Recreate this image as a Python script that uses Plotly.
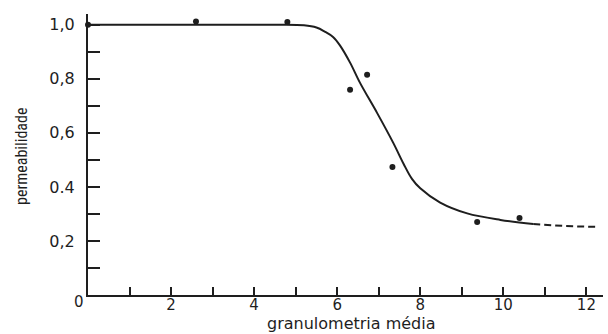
import plotly.graph_objects as go

# measured points
pts_x = [0.0, 2.6, 4.8, 6.31, 6.72, 7.33, 9.37, 10.39]
pts_y = [1.0, 1.012, 1.01, 0.76, 0.815, 0.474, 0.27, 0.285]

curve_x = [0.0, 4.5, 5.2, 5.5, 5.7, 5.9, 6.07, 6.31, 6.55, 6.96, 7.35, 7.6, 7.8, 8.0, 8.48, 9.13, 9.93, 10.72]
curve_y = [1.0, 1.0, 0.998, 0.99, 0.975, 0.955, 0.923, 0.86, 0.785, 0.674, 0.563, 0.485, 0.43, 0.395, 0.342, 0.302, 0.278, 0.263]

# extrapolated (dashed) part
dash_x = [10.72, 11.5, 12.29]
dash_y = [0.263, 0.255, 0.252]

x_ticks = [0, 1, 2, 3, 4, 5, 6, 7, 8, 9, 10, 11, 12]
x_labels = ["", "", "2", "", "4", "", "6", "", "8", "", "10", "", "12"]
y_ticks = [0.1, 0.2, 0.3, 0.4, 0.5, 0.6, 0.7, 0.8, 0.9, 1.0]
y_labels = ["", "0,2", "", "0.4", "", "0,6", "", "0,8", "", "1,0"]

ink = "#1e1e1e"
fig = go.Figure()
fig.add_trace(go.Scatter(x=curve_x, y=curve_y, mode="lines",
                         line=dict(color=ink, width=2, shape="spline", smoothing=1.0),
                         showlegend=False, hoverinfo="skip"))
fig.add_trace(go.Scatter(x=dash_x, y=dash_y, mode="lines",
                         line=dict(color=ink, width=2, dash="7px,4px"),
                         showlegend=False, hoverinfo="skip"))
fig.add_trace(go.Scatter(x=pts_x, y=pts_y, mode="markers",
                         marker=dict(color=ink, size=6, symbol="circle"),
                         showlegend=False, cliponaxis=False))

W, H = 608, 334
l, r, t, b = 88, 5, 14, 39
pw, ph = W - l - r, H - t - b
def px(x):
    return (x - l) / pw
def py(y):
    return (H - b - y) / ph

font = "DejaVu Sans, Verdana, sans-serif"
fig.update_layout(
    width=W, height=H,
    margin=dict(l=l, r=r, t=t, b=b, autoexpand=False),
    paper_bgcolor="white", plot_bgcolor="white",
    font=dict(family=font, color=ink, size=16),
    xaxis=dict(range=[0, 12.4], tickmode="array", tickvals=x_ticks, ticktext=x_labels,
               ticks="inside", ticklen=8, tickwidth=1.5, tickcolor=ink, automargin=False,
               showline=True, linecolor=ink, linewidth=2, showgrid=False, zeroline=False,
               tickfont=dict(size=15), ticklabelstandoff=-5, fixedrange=True),
    yaxis=dict(range=[0, 1.04], tickmode="array", tickvals=y_ticks, ticktext=y_labels,
               ticks="inside", ticklen=12, tickwidth=1.5, tickcolor=ink, automargin=False,
               showline=True, linecolor=ink, linewidth=2, showgrid=False, zeroline=False,
               tickfont=dict(size=16), ticklabelstandoff=8, fixedrange=True),
    annotations=[
        dict(text="0", x=px(79), y=py(302), xref="paper", yref="paper", showarrow=False,
             font=dict(size=15, color=ink), xanchor="center", yanchor="middle"),
        dict(text="granulometria média", x=px(351), y=py(323.5), xref="paper", yref="paper",
             showarrow=False, font=dict(size=16, color=ink), xanchor="center", yanchor="middle"),
        dict(text="permeabilidade", x=px(21), y=py(157), xref="paper", yref="paper",
             showarrow=False, textangle=-90,
             font=dict(size=16, color=ink, family="Liberation Sans Narrow, Arial Narrow, Roboto Condensed, sans-serif"),
             xanchor="center", yanchor="middle"),
    ],
)

fig.write_html("out.html", config={"displayModeBar": False},
               post_script="document.body.style.margin='0px';")
